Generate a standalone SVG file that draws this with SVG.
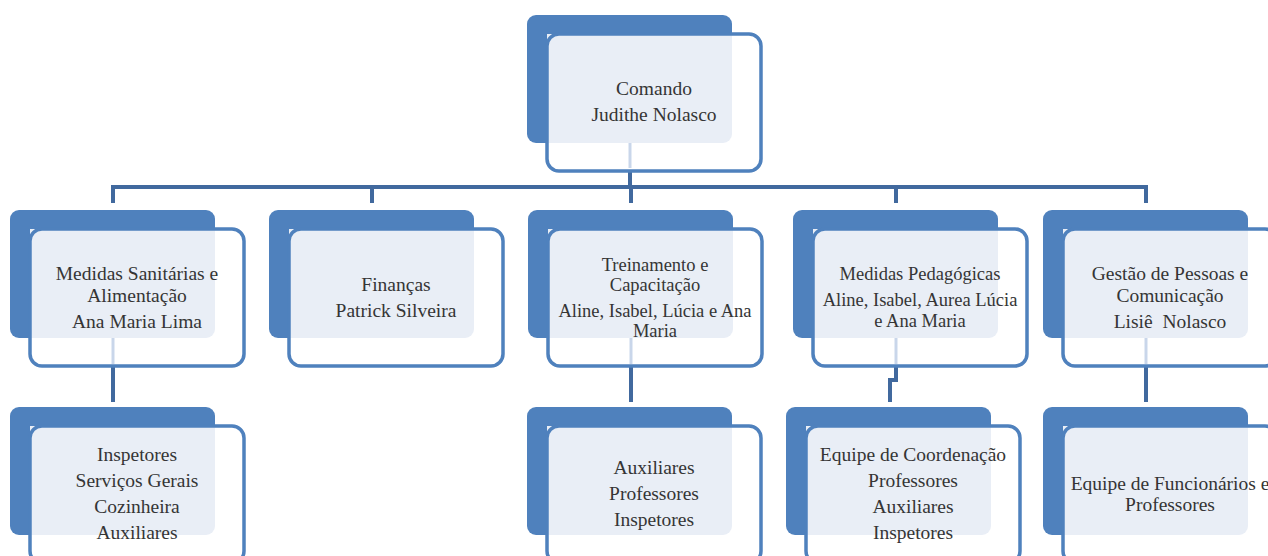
<svg xmlns="http://www.w3.org/2000/svg" width="1268" height="556" viewBox="0 0 1268 556">
<defs>
<style>
.back{fill:#4F81BD}
.front{fill:#FFFFFF;stroke:none}
.frame{fill:none;stroke:#4F81BD;stroke-width:3.5}
.mid{fill:#E9EEF6}
.faint{stroke:#C9D6EA;stroke-width:3;fill:none}
.conn{stroke:#41699E;stroke-width:4;fill:none}
text{font-family:"Liberation Serif","DejaVu Serif",serif;font-size:19.5px;fill:#353535;text-anchor:middle;white-space:pre}
.sm{font-size:18.5px}
</style>
<g id="box">
<rect class="back" x="0" y="0" width="205" height="128" rx="9"/>
<rect class="front" x="20" y="19" width="214" height="137" rx="12"/>
<path class="mid" d="M20,19 H205 V119 A9,9 0 0 1 196,128 H20 Z"/>
<rect class="frame" x="20" y="19" width="214" height="137" rx="12"/>
</g>
</defs>
<rect width="1268" height="556" fill="#FFFFFF"/>
<g id="connectors">
<line class="conn" x1="630" y1="170" x2="630" y2="187"/>
<line class="conn" x1="111" y1="187" x2="1148" y2="187"/>
<line class="conn" x1="113" y1="187" x2="113" y2="203"/>
<line class="conn" x1="372" y1="187" x2="372" y2="203"/>
<line class="conn" x1="631" y1="187" x2="631" y2="203"/>
<line class="conn" x1="896" y1="187" x2="896" y2="203"/>
<line class="conn" x1="1146" y1="185" x2="1146" y2="203"/>
<line class="conn" x1="113" y1="366" x2="113" y2="402"/>
<line class="conn" x1="631" y1="366" x2="631" y2="402"/>
<path class="conn" d="M896,366 V380 H890 V402"/>
<line class="conn" x1="1146" y1="366" x2="1146" y2="402"/>
</g>
<g id="n-comando">
<use href="#box" x="527" y="15"/>
<line class="faint" x1="630" y1="143" x2="630" y2="168"/>
<text x="654" y="95">Comando</text>
<text x="654" y="121">Judithe Nolasco</text>
</g>
<g id="n-sanitarias">
<use href="#box" x="10" y="210"/>
<line class="faint" x1="113" y1="338" x2="113" y2="364"/>
<text x="137" y="280">Medidas Sanitárias e</text>
<text x="137" y="302">Alimentação</text>
<text x="137" y="328">Ana Maria Lima</text>
</g>
<g id="n-financas">
<use href="#box" x="269" y="210"/>
<text x="396" y="291">Finanças</text>
<text x="396" y="317">Patrick Silveira</text>
</g>
<g id="n-treinamento">
<use href="#box" x="528" y="210"/>
<line class="faint" x1="631" y1="338" x2="631" y2="364"/>
<text class="sm" x="655" y="271">Treinamento e</text>
<text class="sm" x="655" y="291">Capacitação</text>
<text class="sm" x="655" y="317">Aline, Isabel, Lúcia e Ana</text>
<text class="sm" x="655" y="337">Maria</text>
</g>
<g id="n-pedagogicas">
<use href="#box" x="793" y="210"/>
<line class="faint" x1="896" y1="338" x2="896" y2="364"/>
<text class="sm" x="920" y="280">Medidas Pedagógicas</text>
<text class="sm" x="920" y="306">Aline, Isabel, Aurea Lúcia</text>
<text class="sm" x="920" y="327">e Ana Maria</text>
</g>
<g id="n-gestao">
<use href="#box" x="1043" y="210"/>
<line class="faint" x1="1146" y1="338" x2="1146" y2="364"/>
<text x="1170" y="280">Gestão de Pessoas e</text>
<text x="1170" y="302">Comunicação</text>
<text x="1170" y="328">Lisiê  Nolasco</text>
</g>
<g id="n-inspetores">
<use href="#box" x="10" y="407"/>
<text x="137" y="461">Inspetores</text>
<text x="137" y="487">Serviços Gerais</text>
<text x="137" y="513">Cozinheira</text>
<text x="137" y="539">Auxiliares</text>
</g>
<g id="n-auxiliares">
<use href="#box" x="527" y="407"/>
<text x="654" y="474">Auxiliares</text>
<text x="654" y="500">Professores</text>
<text x="654" y="526">Inspetores</text>
</g>
<g id="n-coordenacao">
<use href="#box" x="786" y="407"/>
<text x="913" y="461">Equipe de Coordenação</text>
<text x="913" y="487">Professores</text>
<text x="913" y="513">Auxiliares</text>
<text x="913" y="539">Inspetores</text>
</g>
<g id="n-funcionarios">
<use href="#box" x="1043" y="407"/>
<text x="1170" y="490">Equipe de Funcionários e</text>
<text x="1170" y="511">Professores</text>
</g>
</svg>
